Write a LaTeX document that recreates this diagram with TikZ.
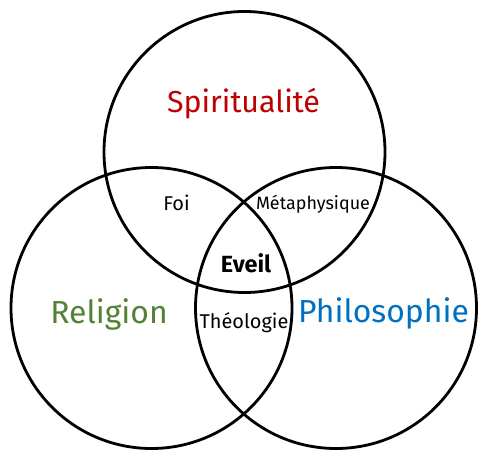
\documentclass[tikz,border=0pt]{standalone}
\usepackage{fontspec}
\setmainfont{Fira Sans}
\definecolor{spired}{HTML}{C00000}
\definecolor{relgreen}{HTML}{548235}
\definecolor{phiblue}{HTML}{0070C0}
\begin{document}
\begin{tikzpicture}[x=1bp,y=-1bp,
  venn/.style={circle,draw=black,line width=2.8bp,minimum size=281bp,inner sep=0pt},
  lbl/.style={inner sep=0pt,anchor=base}]
\useasboundingbox[fill=white] (0,0) rectangle (494,465);
\node[venn] (top) at (244.5,152) {};
\node[venn] (left) at (151.5,308) {};
\node[venn] (right) at (336,308) {};
\node[lbl,text=spired,font=\fontsize{30.5}{36}\selectfont] (spi) at (243.5,113) {Spiritualité};
\node[lbl,text=relgreen,font=\fontsize{32}{38}\selectfont] (rel) at (109,323) {Religion};
\node[lbl,text=phiblue,font=\fontsize{32}{38}\selectfont] (phi) at (383.5,322) {Philosophie};
\node[lbl,font=\fontsize{20}{24}\selectfont] (foi) at (176.5,211) {Foi};
\node[lbl,font=\fontsize{18}{22}\selectfont] (met) at (313,210) {Métaphysique};
\node[lbl,font=\bfseries\fontsize{23.5}{28}\selectfont] (eve) at (246,272) {Eveil};
\node[lbl,font=\fontsize{20}{24}\selectfont] (the) at (244,328) {Théologie};
\end{tikzpicture}
\end{document}
